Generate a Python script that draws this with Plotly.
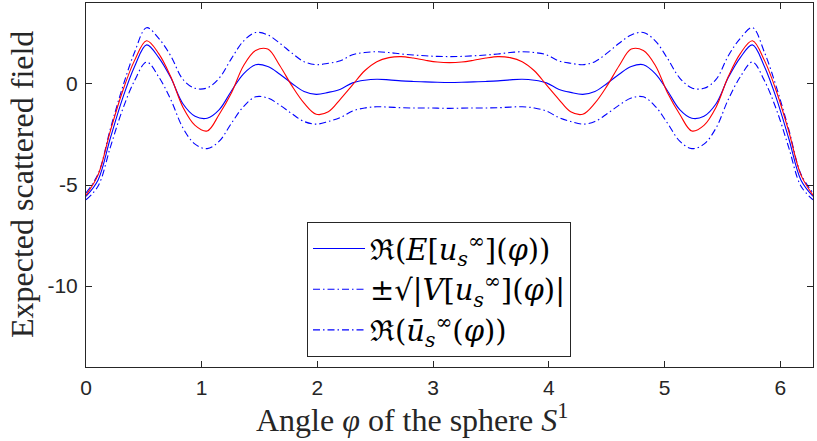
import numpy as np
import plotly.graph_objects as go

# angle grid on [0, 2*pi]
phi = np.linspace(0, 2 * np.pi, 61)

# Re(E[u_s^inf](phi)) - mean of the scattered far field
mean_field = [
    -5.56, -4.75, -2.7, -0.75, 0.85, 1.93, 1.3, 0.3, -0.98, -1.6,
    -1.7, -1.27, -0.35, 0.5, 0.95, 0.86, 0.48, 0.02, -0.38, -0.52,
    -0.42, -0.26, 0.05, 0.18, 0.23, 0.2, 0.15, 0.12, 0.1, 0.08,
    0.07,
    0.08, 0.1, 0.12, 0.15, 0.2, 0.23, 0.18, 0.05, -0.26, -0.42,
    -0.52, -0.38, 0.02, 0.48, 0.86, 0.95, 0.5, -0.35, -1.27, -1.7,
    -1.6, -0.98, 0.3, 1.3, 1.93, 0.85, -0.75, -2.7, -4.75, -5.56,
]

# sqrt(|V[u_s^inf](phi)|) - standard deviation
std_field = [
    0.17, 0.3, 0.45, 0.55, 0.7, 0.85, 0.95, 1.08, 1.2, 1.38,
    1.5, 1.56, 1.6, 1.62, 1.59, 1.56, 1.53, 1.5, 1.48, 1.47,
    1.44, 1.4, 1.39, 1.37, 1.36, 1.35, 1.33, 1.31, 1.29, 1.28,
    1.28,
    1.28, 1.29, 1.31, 1.33, 1.35, 1.36, 1.37, 1.39, 1.4, 1.44,
    1.47, 1.48, 1.5, 1.53, 1.56, 1.59, 1.62, 1.6, 1.56, 1.5,
    1.38, 1.2, 1.08, 0.95, 0.85, 0.7, 0.55, 0.45, 0.3, 0.17,
]

# Re(u_bar_s^inf(phi)) - field of the mean scatterer
ubar_field = [
    -5.5, -4.5, -2.35, -0.4, 1.15, 2.13, 1.5, 0.35, -1.15, -2.05,
    -2.33, -1.5, -0.45, 0.9, 1.65, 1.72, 0.9, -0.1, -0.95, -1.5,
    -1.38, -0.75, -0.05, 0.65, 1.1, 1.3, 1.35, 1.28, 1.17, 1.08,
    1.05,
    1.08, 1.17, 1.28, 1.35, 1.3, 1.1, 0.65, -0.05, -0.75, -1.38,
    -1.5, -0.95, -0.1, 0.9, 1.72, 1.65, 0.9, -0.45, -1.5, -2.33,
    -2.05, -1.15, 0.35, 1.5, 2.13, 1.15, -0.4, -2.35, -4.5, -5.5,
]

mean_arr = np.array(mean_field)
std_arr = np.array(std_field)

BLUE = "#0000ff"
RED = "#ff0000"
DASHDOT = "7px,3px,1.5px,3px"
SERIF = "Liberation Serif, DejaVu Serif, serif"
SANS = "Liberation Sans, Arial, sans-serif"

lbl_mean = "ℜ(<i>E</i>[<i>u</i><sub><i>s</i></sub><sup>∞</sup>](<i>φ</i>))"
lbl_std = "±√|<i>V</i>[<i>u</i><sub><i>s</i></sub><sup>∞</sup>](<i>φ</i>)|"
lbl_ubar = "ℜ(<i>ū</i><sub><i>s</i></sub><sup>∞</sup>(<i>φ</i>))"

fig = go.Figure()
fig.add_trace(go.Scatter(x=phi, y=mean_arr, mode="lines", name=lbl_mean,
                         line=dict(color=BLUE, width=1.1, shape="spline")))
fig.add_trace(go.Scatter(x=phi, y=mean_arr + std_arr, mode="lines", name=lbl_std,
                         line=dict(color=BLUE, width=1.1, dash=DASHDOT, shape="spline")))
# as in the original figure, the legend's third label sits on the lower band
fig.add_trace(go.Scatter(x=phi, y=mean_arr - std_arr, mode="lines", name=lbl_ubar,
                         line=dict(color=BLUE, width=1.1, dash=DASHDOT, shape="spline")))
fig.add_trace(go.Scatter(x=phi, y=ubar_field, mode="lines", showlegend=False,
                         line=dict(color=RED, width=1.1, shape="spline")))

axis_common = dict(
    showgrid=False, zeroline=False, showline=True, mirror="ticks",
    linecolor="#262626", linewidth=1, ticks="inside", ticklen=6,
    tickcolor="#262626", tickfont=dict(family=SANS, size=21, color="#262626"),
    automargin=False,
)

fig.update_layout(
    width=817, height=441,
    margin=dict(l=86, r=4, t=3, b=74),
    plot_bgcolor="white", paper_bgcolor="white",
    xaxis=dict(range=[0, 2 * np.pi], tickvals=[0, 1, 2, 3, 4, 5, 6],
               ticklabelstandoff=2, **axis_common),
    yaxis=dict(range=[-14, 4], tickvals=[-10, -5, 0], ticktext=["-10", "-5", "0"],
               ticklabelstandoff=3, **axis_common),
    legend=dict(x=0.304, y=0.398, xanchor="left", yanchor="top",
                bgcolor="white", bordercolor="#262626", borderwidth=1,
                font=dict(family="DejaVu Serif, serif", size=29, color="black"),
                itemwidth=52, tracegroupgap=0),
)

# axis labels placed as in the original figure
fig.add_annotation(text="Angle <i>φ</i> of the sphere <i>S</i><sup>1</sup>",
                   xref="paper", yref="paper", x=0.448, y=-0.14,
                   xanchor="center", yanchor="middle", showarrow=False,
                   font=dict(family=SERIF, size=32, color="#262626"))
fig.add_annotation(text="Expected scattered field",
                   xref="paper", yref="paper", x=-0.088, y=0.5, textangle=-90,
                   xanchor="center", yanchor="middle", showarrow=False,
                   font=dict(family=SERIF, size=32, color="#262626"))

# drop the page's default body margin so the figure sits at the window's corner
fig.write_html("out.html", config={"displayModeBar": False},
               post_script="document.body.style.margin = '0px';")
